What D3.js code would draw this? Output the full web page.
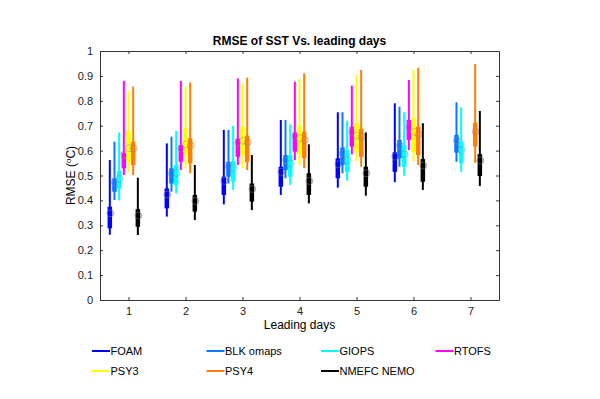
<!DOCTYPE html>
<html>
<head>
<meta charset="utf-8">
<script src="https://cdn.jsdelivr.net/npm/d3@7"></script>
<style>
  body { margin: 0; background: #fff; }
  text { font-family: "Liberation Sans", Arial, sans-serif; }
  .axis path, .axis line { stroke: #333; }
  .axis text { font-size: 11px; fill: #222; }
</style>
</head>
<body>
<div id="chart"></div>
<script>
// leading days and models
var days = [1, 2, 3, 4, 5, 6, 7];
var models = ["FOAM", "BLK omaps", "GIOPS", "RTOFS", "PSY3", "PSY4", "NMEFC NEMO"];
var colors = ["#0000ff", "#0a78ff", "#00ffff", "#ff00ff", "#ffff00", "#ff7f00", "#000000"];
var yTicks = [0, 0.1, 0.2, 0.3, 0.4, 0.5, 0.6, 0.7, 0.8, 0.9, 1];

// per model (rows) and per day (columns); null = no forecast that day
var whiskerLow = [
  [0.262, 0.335, 0.384, 0.422, 0.451, 0.473, null],
  [0.402, 0.435, 0.468, 0.489, 0.509, 0.535, 0.555],
  [0.400, 0.428, 0.442, 0.462, 0.479, 0.499, 0.515],
  [0.502, 0.522, 0.542, 0.562, 0.585, 0.602, null],
  [0.515, 0.529, 0.531, 0.542, 0.558, 0.558, null],
  [0.502, 0.509, 0.522, 0.529, 0.535, 0.542, 0.551],
  [0.261, 0.321, 0.361, 0.388, 0.419, 0.442, 0.458]
];
var boxLow = [
  [0.288, 0.368, 0.422, 0.455, 0.489, 0.515, null],
  [0.435, 0.468, 0.495, 0.522, 0.542, 0.569, 0.592],
  [0.448, 0.462, 0.475, 0.495, 0.515, 0.535, 0.549],
  [0.529, 0.555, 0.575, 0.596, 0.616, 0.643, null],
  [0.555, 0.582, 0.582, 0.585, 0.596, 0.596, null],
  [0.542, 0.549, 0.555, 0.569, 0.575, 0.582, 0.616],
  [0.294, 0.355, 0.395, 0.422, 0.455, 0.475, 0.498]
];
var boxHigh = [
  [0.375, 0.448, 0.495, 0.535, 0.569, 0.593, null],
  [0.489, 0.529, 0.555, 0.582, 0.612, 0.643, 0.663],
  [0.518, 0.542, 0.558, 0.582, 0.602, 0.622, 0.636],
  [0.589, 0.622, 0.649, 0.673, 0.696, 0.723, null],
  [0.679, 0.689, 0.696, 0.700, 0.710, 0.730, null],
  [0.636, 0.649, 0.660, 0.676, 0.687, 0.696, 0.712],
  [0.365, 0.422, 0.468, 0.509, 0.535, 0.566, 0.586]
];
var whiskerHigh = [
  [0.562, 0.629, 0.683, 0.723, 0.754, 0.790, null],
  [0.636, 0.656, 0.683, 0.723, 0.754, 0.776, 0.794],
  [0.673, 0.679, 0.700, 0.705, 0.720, 0.754, 0.774],
  [0.880, 0.880, 0.890, 0.877, 0.861, 0.884, null],
  [0.839, 0.857, 0.870, 0.888, 0.904, 0.924, null],
  [0.857, 0.874, 0.893, 0.910, 0.924, 0.933, 0.948],
  [0.491, 0.542, 0.582, 0.625, 0.673, 0.710, 0.759]
];
var meanVal = [
  [0.348, 0.424, 0.478, 0.515, 0.545, 0.576, null],
  [0.472, 0.508, 0.535, 0.562, 0.589, 0.620, 0.640],
  [0.486, 0.510, 0.529, 0.549, 0.562, 0.585, 0.602],
  [0.584, 0.609, 0.633, 0.656, 0.676, 0.696, null],
  [0.610, 0.625, 0.640, 0.650, 0.660, 0.675, null],
  [0.609, 0.620, 0.633, 0.643, 0.656, 0.665, 0.676],
  [0.339, 0.398, 0.446, 0.478, 0.509, 0.540, 0.560]
];

// chart dimensions
var width = 600, height = 399;
var margin = { top: 51, right: 101, bottom: 99, left: 100 };
var innerW = width - margin.left - margin.right;
var innerH = height - margin.top - margin.bottom;

var x = d3.scaleLinear().domain([0.5, 7.5]).range([0, innerW]);
var y = d3.scaleLinear().domain([0, 1]).range([innerH, 0]);
var offset = d3.scaleLinear().domain([0, 6]).range([-4 / 12.2, 2 / 12.2]);

var svg = d3.select("#chart").append("svg")
  .attr("width", width)
  .attr("height", height);

var chart = svg.append("g")
  .attr("transform", "translate(" + margin.left + "," + margin.top + ")");

// axes (matlab style, ticks pointing inwards, box on)
chart.append("g")
  .attr("class", "axis")
  .attr("transform", "translate(0," + innerH + ")")
  .call(d3.axisBottom(x).tickValues(days).tickSizeInner(-3).tickSizeOuter(0).tickPadding(7)
    .tickFormat(d3.format("d")));
chart.append("g")
  .attr("class", "axis")
  .call(d3.axisTop(x).tickValues(days).tickSizeInner(-3).tickSizeOuter(0).tickFormat(""));
chart.append("g")
  .attr("class", "axis")
  .call(d3.axisLeft(y).tickValues(yTicks).tickSizeInner(-3).tickSizeOuter(0).tickPadding(7)
    .tickFormat(function(d) { return d === 0 || d === 1 ? d : d.toFixed(1); }));
chart.append("g")
  .attr("class", "axis")
  .attr("transform", "translate(" + innerW + ",0)")
  .call(d3.axisRight(y).tickValues(yTicks).tickSizeInner(-3).tickSizeOuter(0).tickFormat(""));

// flatten into one record per box
var boxes = [];
models.forEach(function(m, i) {
  days.forEach(function(d, j) {
    if (meanVal[i][j] === null) return;
    boxes.push({
      model: i, day: d,
      wlo: whiskerLow[i][j], q1: boxLow[i][j], q3: boxHigh[i][j],
      whi: whiskerHigh[i][j], mean: meanVal[i][j]
    });
  });
});

function bx(d) { return x(d.day + offset(d.model)); }

var g = chart.selectAll(".box")
  .data(boxes)
  .enter().append("g")
  .attr("class", "box");

// whiskers
g.append("line")
  .attr("x1", bx).attr("x2", bx)
  .attr("y1", function(d) { return y(d.wlo); })
  .attr("y2", function(d) { return y(d.whi); })
  .style("stroke", function(d) { return colors[d.model]; })
  .style("stroke-width", 2);

// boxes
g.append("line")
  .attr("x1", bx).attr("x2", bx)
  .attr("y1", function(d) { return y(d.q1); })
  .attr("y2", function(d) { return y(d.q3); })
  .style("stroke", function(d) { return colors[d.model]; })
  .style("stroke-width", 4.5);

// mean markers
g.append("circle")
  .attr("cx", function(d) { return bx(d) + 0.5; })
  .attr("cy", function(d) { return y(d.mean); })
  .attr("r", 3.5)
  .style("fill", function(d) { return colors[d.model]; })
  .style("fill-opacity", 0.25)
  .style("stroke", "#888")
  .style("stroke-opacity", 0.5)
  .style("stroke-width", 1);

// title and labels
svg.append("text")
  .attr("x", margin.left + innerW / 2)
  .attr("y", 45)
  .attr("text-anchor", "middle")
  .style("font-size", "12px")
  .style("font-weight", "bold")
  .text("RMSE of SST Vs. leading days");

svg.append("text")
  .attr("x", margin.left + innerW / 2)
  .attr("y", 329)
  .attr("text-anchor", "middle")
  .style("font-size", "12px")
  .text("Leading days");

var yl = svg.append("text")
  .attr("transform", "translate(75," + (margin.top + innerH / 2) + ") rotate(-90)")
  .attr("text-anchor", "middle")
  .style("font-size", "12px");
yl.append("tspan").text("RMSE (");
yl.append("tspan").attr("dy", -4).style("font-size", "8px").text("o");
yl.append("tspan").attr("dy", 4).text("C)");

// legend, four columns by two rows
var legend = svg.selectAll(".legend")
  .data(models)
  .enter().append("g")
  .attr("class", "legend")
  .attr("transform", function(d, i) {
    return "translate(" + (92 + (i % 4) * 114.5) + "," + (351 + Math.floor(i / 4) * 20) + ")";
  });
legend.append("line")
  .attr("x1", 0).attr("x2", 18)
  .style("stroke", function(d, i) { return colors[i]; })
  .style("stroke-width", 2);
legend.append("text")
  .attr("x", 18.5)
  .attr("dy", "0.35em")
  .style("font-size", "11px")
  .text(function(d) { return d; });
</script>
</body>
</html>
